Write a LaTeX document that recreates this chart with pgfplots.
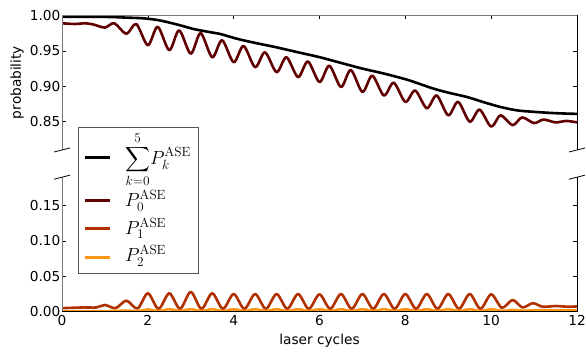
\RequirePackage{fix-cm}
\documentclass[border=0pt]{standalone}
\usepackage{exscale}
\usepackage[no-math]{fontspec}
\setmainfont{DejaVu Sans}
\usepackage{pgfplots}
\pgfplotsset{compat=1.18}
\usepackage{pgfplotstable}

\definecolor{czero}{RGB}{96,0,0}
\definecolor{cone}{RGB}{176,48,0}
\definecolor{ctwo}{RGB}{255,150,20}
\definecolor{spinegray}{RGB}{120,120,120}

\pgfplotstableread{
x y
0.00 0.998
1.00 0.998
1.50 0.997
1.90 0.996
2.28 0.993
2.70 0.987
3.06 0.981
3.40 0.977
3.68 0.974
3.91 0.970
4.15 0.966
4.60 0.960
5.00 0.955
5.50 0.948
6.01 0.941
6.50 0.933
7.00 0.925
7.50 0.918
7.88 0.912
8.11 0.908
8.64 0.897
9.00 0.891
9.43 0.885
9.80 0.878
10.20 0.871
10.60 0.866
10.97 0.864
11.50 0.862
12.00 0.861
}\sumtab

\pgfplotstableread{
x y
0.00 0.989
0.30 0.988
0.55 0.989
0.75 0.987
1.00 0.983
1.22 0.989
1.50 0.974
1.73 0.988
2.00 0.958
2.23 0.984
2.50 0.951
2.73 0.979
3.00 0.946
3.23 0.975
3.50 0.941
3.73 0.965
4.00 0.934
4.23 0.957
4.50 0.927
4.73 0.948
5.00 0.920
5.23 0.941
5.50 0.913
5.73 0.935
6.00 0.906
6.23 0.929
6.50 0.899
6.73 0.923
7.00 0.892
7.23 0.915
7.50 0.887
7.73 0.905
8.00 0.878
8.23 0.894
8.50 0.869
8.73 0.887
9.00 0.859
9.23 0.878
9.50 0.850
9.73 0.867
10.00 0.843
10.22 0.859
10.50 0.845
10.72 0.856
11.00 0.848
11.22 0.853
11.50 0.849
11.75 0.851
12.00 0.849
}\pzerotab

\pgfplotstableread{
x y
0.00 0.0050
0.50 0.0060
0.80 0.0060
1.00 0.0095
1.25 0.0050
1.50 0.0156
1.76 0.0045
2.00 0.0260
2.25 0.0040
2.50 0.0260
2.75 0.0040
3.00 0.0280
3.25 0.0040
3.50 0.0260
3.75 0.0040
4.00 0.0250
4.25 0.0040
4.50 0.0250
4.75 0.0040
5.00 0.0250
5.25 0.0040
5.50 0.0250
5.75 0.0040
6.00 0.0245
6.25 0.0040
6.50 0.0250
6.75 0.0040
7.00 0.0250
7.25 0.0040
7.50 0.0250
7.75 0.0040
8.00 0.0250
8.25 0.0040
8.50 0.0250
8.75 0.0040
9.00 0.0250
9.25 0.0040
9.50 0.0250
9.75 0.0040
10.00 0.0245
10.25 0.0055
10.50 0.0166
10.73 0.0060
10.97 0.0120
11.20 0.0070
11.50 0.0080
11.80 0.0070
12.00 0.0075
}\ponetab

\pgfplotstableread{
x y
0.00 0.0005
1.00 0.0008
1.50 0.0015
1.75 0.0008
2.00 0.0030
2.25 0.0010
2.50 0.0035
2.75 0.0010
3.00 0.0035
3.25 0.0010
3.50 0.0035
3.75 0.0010
4.00 0.0035
4.25 0.0010
4.50 0.0035
4.75 0.0010
5.00 0.0035
5.25 0.0010
5.50 0.0035
5.75 0.0010
6.00 0.0035
6.25 0.0010
6.50 0.0035
6.75 0.0010
7.00 0.0035
7.25 0.0010
7.50 0.0035
7.75 0.0010
8.00 0.0035
8.25 0.0010
8.50 0.0035
8.75 0.0010
9.00 0.0035
9.25 0.0010
9.50 0.0035
9.75 0.0010
10.00 0.0035
10.25 0.0012
10.50 0.0025
10.75 0.0015
11.00 0.0020
11.50 0.0018
12.00 0.0018
}\ptwotab

\begin{document}
\begin{tikzpicture}
\path[use as bounding box] (0,0) rectangle (586pt,352pt);
\pgfplotsset{
  every axis/.append style={
    scale only axis, width=515pt, height=134.5pt,
    xmin=0, xmax=12, xtick={0,2,...,12},
    axis line style={draw=none},
    tick style={black, line width=0.6pt}, major tick length=4pt,
    tick label style={font=\fontsize{13.7}{16}\selectfont},
    /pgf/number format/assume math mode=true,
    y tick label style={/pgf/number format/fixed, /pgf/number format/fixed zerofill, /pgf/number format/precision=2, inner xsep=1.5pt},
  },
  ser/.style={line width=2.6pt, smooth, line join=round},
}
\begin{axis}[name=top, at={(62pt,202pt)}, anchor=south west,
  ymin=0.81, ymax=1.00, ytick={0.85,0.90,0.95,1.00},
  xtick pos=right, xticklabels={}]
\addplot[ser, black] table[x=x,y=y] {\sumtab};
\addplot[ser, czero] table[x=x,y=y] {\pzerotab};
\end{axis}
\begin{axis}[name=bot, at={(62pt,40.3pt)}, anchor=south west,
  ymin=0, ymax=0.19, ytick={0,0.05,0.10,0.15},
  xtick pos=left,
  legend cell align=left,
  legend image code/.code={\draw[#1, line width=2.8pt] (0pt,0pt) -- (25pt,0pt);},
  legend style={at={(axis description cs:0.031,1.371)}, anchor=north west,
    draw=spinegray!70!black, line width=0.8pt, fill=white,
    font=\fontsize{19}{22}\selectfont, row sep=1pt, column sep=12pt,
    inner xsep=5pt, inner ysep=1.5pt,
    nodes={text depth=, inner ysep=3pt}}]
\addlegendimage{black}
\addlegendentry{\raisebox{0pt}[\height][\dimexpr\depth-4pt\relax]{$\displaystyle\sum_{k=0}^{5}\!P_k^{\mathrm{ASE}}$}}
\addlegendimage{czero}
\addlegendentry{$P_0^{\mathrm{ASE}}$}
\addplot[ser, cone] table[x=x,y=y] {\ponetab};
\addlegendentry{$P_1^{\mathrm{ASE}}$}
\addplot[ser, ctwo] table[x=x,y=y] {\ptwotab};
\addlegendentry{$P_2^{\mathrm{ASE}}$\rule[-7pt]{0pt}{7pt}}
\end{axis}
% spines
\draw[spinegray, line width=0.9pt] (top.south west) -- (top.north west) -- (top.north east);
\draw[black, line width=0.9pt] (top.north east) -- (top.south east);
\draw[spinegray, line width=0.9pt] (bot.north west) -- (bot.south west);
\draw[black, line width=0.9pt] (bot.south west) -- (bot.south east) -- (bot.north east);
% break marks
\foreach \c in {top.south west, top.south east, bot.north west, bot.north east}{
  \draw[black, line width=0.8pt] (\c) ++(-7.9pt,-2pt) -- ++(15.8pt,4pt);
}
\node[rotate=90, font=\fontsize{13.7}{16}\selectfont] at (17pt,269.5pt) {probability};
\node[anchor=base, font=\fontsize{13.7}{16}\selectfont] at (319.5pt,7pt) {laser cycles};
\end{tikzpicture}
\end{document}
